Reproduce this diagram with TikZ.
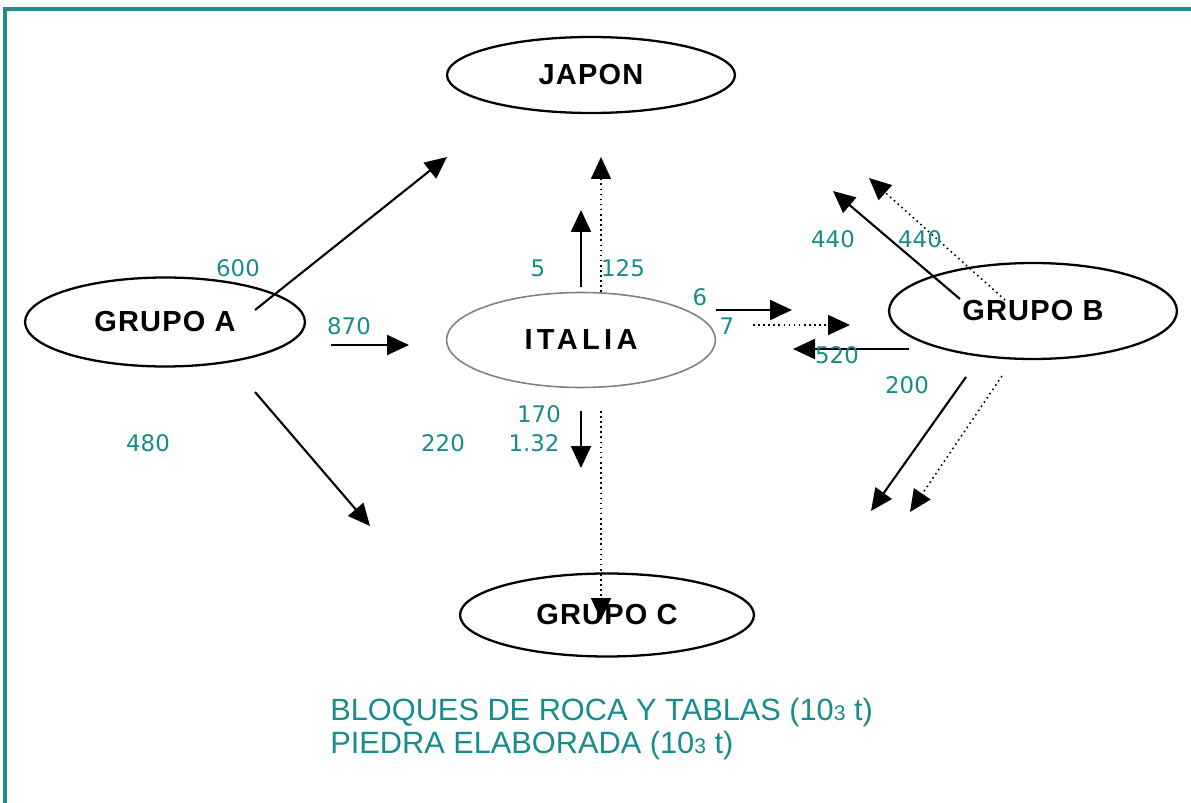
\documentclass[tikz,border=0pt]{standalone}
\usepackage{fontspec}
\setmainfont{Liberation Sans}
\newfontfamily\cifras{DejaVu Sans}
\usetikzlibrary{shapes.geometric,arrows.meta}
\definecolor{verdemar}{RGB}{22,140,140}
\definecolor{marco}{RGB}{34,140,140}
\tikzset{every node/.style={align=center}}
\tikzstyle{pais} = [ellipse, draw, line width=1.3pt, inner sep=0pt, font=\fontsize{16.5}{18}\selectfont\bfseries\addfontfeature{LetterSpace=4}]
\tikzstyle{flujo} = [line width=1.2pt, -{Triangle[length=0.44cm, width=0.4cm]}]
\tikzstyle{flujop} = [dotted, line width=0.9pt, -{Triangle[length=0.44cm, width=0.4cm]}]
\tikzstyle{cifra} = [text=verdemar, inner sep=0pt, font=\cifras\fontsize{13}{14}\selectfont]

\begin{document}
\begin{tikzpicture}[x=0.02cm, y=-0.02cm]
		\useasboundingbox (0,0) rectangle (1191,803);
		% Marco
		\draw[marco, line width=2.2pt] (1191,9) -- (5,9) -- (5,803);

		% Paises
		\node[pais, minimum width=5.76cm, minimum height=1.52cm] (japon) at (591,75) {JAPON};
		\node[pais, minimum width=5.6cm, minimum height=1.78cm] (grupoa) at (165,322) {GRUPO A};
		\node[pais, draw=gray, line width=0.9pt, minimum width=5.38cm, minimum height=1.9cm,
			font=\fontsize{16.5}{18}\selectfont\bfseries\addfontfeature{LetterSpace=15}] (italia) at (581,340) {ITALIA};
		\node[pais, minimum width=5.76cm, minimum height=1.92cm] (grupob) at (1033,311) {GRUPO B};
		\node[pais, minimum width=5.88cm, minimum height=1.66cm] (grupoc) at (607,615) {GRUPO C};

		% Extremos de las flechas
		%% Grupo A
		\coordinate (a-jp0) at (255,310);  \coordinate (a-jp1) at (447,157);
		\coordinate (a-it0) at (331,345);  \coordinate (a-it1) at (409,345);
		\coordinate (a-gc0) at (255,392);  \coordinate (a-gc1) at (370,526);
		%% Italia
		\coordinate (i-jp0) at (581,287);  \coordinate (i-jp1) at (581,210);
		\coordinate (i-jpp0) at (601,292); \coordinate (i-jpp1) at (601,157);
		\coordinate (i-gb0) at (716,310);  \coordinate (i-gb1) at (792,310);
		\coordinate (i-gbp0) at (753,325); \coordinate (i-gbp1) at (850,325);
		\coordinate (i-gc0) at (581,411);  \coordinate (i-gc1) at (581,468);
		\coordinate (i-gcp0) at (601,411); \coordinate (i-gcp1) at (601,620);
		%% Grupo B
		\coordinate (b-it0) at (909,349);  \coordinate (b-it1) at (793,349);
		\coordinate (b-jp0) at (960,299);  \coordinate (b-jp1) at (833,191);
		\coordinate (b-jpp0) at (1005,300); \coordinate (b-jpp1) at (869,178);
		\coordinate (b-gc0) at (966,377);  \coordinate (b-gc1) at (871,511);
		\coordinate (b-gcp0) at (1002,376); \coordinate (b-gcp1) at (910,512);

		% Flechas
		\draw[flujo] (a-jp0) -- (a-jp1);
		\draw[flujo] (a-it0) -- (a-it1);
		\draw[flujo] (a-gc0) -- (a-gc1);
		\draw[flujo] (i-jp0) -- (i-jp1);
		\draw[flujop] (i-jpp0) -- (i-jpp1);
		\draw[flujo] (i-gb0) -- (i-gb1);
		\draw[flujop] (i-gbp0) -- (i-gbp1);
		\draw[flujo] (i-gc0) -- (i-gc1);
		\draw[flujop] (i-gcp0) -- (i-gcp1);
		\draw[flujo] (b-it0) -- (b-it1);
		\draw[flujo] (b-jp0) -- (b-jp1);
		\draw[flujop] (b-jpp0) -- (b-jpp1);
		\draw[flujo] (b-gc0) -- (b-gc1);
		\draw[flujop] (b-gcp0) -- (b-gcp1);

		% Cifras
		\node[cifra] (c600) at (238,268) {600};
		\node[cifra] (c870) at (349,326) {870};
		\node[cifra] (c480) at (148,443) {480};
		\node[cifra] (c5) at (538,268) {5};
		\node[cifra] (c125) at (623,268) {125};
		\node[cifra] (c6) at (700,297) {6};
		\node[cifra] (c7) at (727,326) {7};
		\node[cifra] (c520) at (837,355) {520};
		\node[cifra] (c440a) at (833,239) {440};
		\node[cifra] (c440b) at (920,239) {440};
		\node[cifra] (c200) at (907,385) {200};
		\node[cifra] (c170) at (539,414) {170};
		\node[cifra] (c132) at (534,443) {1.32};
		\node[cifra] (c220) at (443,443) {220};

		% Leyenda
		\node[text=verdemar, inner sep=0pt, anchor=west, align=left, font=\fontsize{17.5}{19.3}\selectfont] (leyenda) at (330,729)
			{BLOQUES DE ROCA Y TABLAS (10{\fontsize{12}{12}\selectfont 3} t)\\PIEDRA ELABORADA (10{\fontsize{12}{12}\selectfont 3} t)};
	\end{tikzpicture}
\end{document}
